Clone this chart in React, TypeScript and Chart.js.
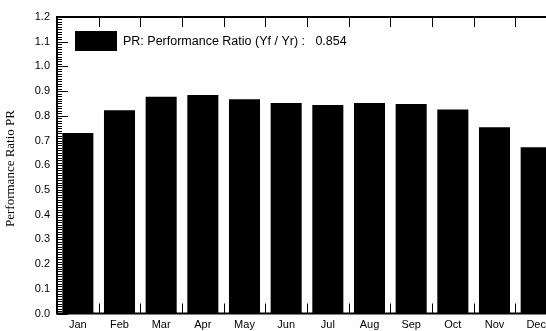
import React, { useEffect, useRef } from "react";
import { Chart, registerables } from "chart.js";

Chart.register(...registerables);

const months = ["Jan", "Feb", "Mar", "Apr", "May", "Jun", "Jul", "Aug", "Sep", "Oct", "Nov", "Dec"];
const prValues = [0.731, 0.823, 0.877, 0.884, 0.867, 0.852, 0.844, 0.852, 0.848, 0.826, 0.754, 0.673];
const yMin = 0;
const yMax = 1.2;
const yStep = 0.1;
const seriesLabel = "PR: Performance Ratio (Yf / Yr) :   0.854";
const yAxisTitle = "Performance Ratio PR  ";

const SANS = "'Liberation Sans', Arial, sans-serif";
const SERIF = "'Liberation Serif', 'Times New Roman', serif";

export default function App() {
  const ref = useRef<HTMLCanvasElement>(null);

  useEffect(() => {
    const canvas = ref.current;
    if (!canvas) return;

    const framePlugin = {
      id: "frame",
      afterDraw(chart: any) {
        const { ctx, chartArea: a, scales } = chart;
        const x = scales.x;
        const y = scales.y;
        ctx.save();
        ctx.strokeStyle = "#000";
        ctx.fillStyle = "#000";

        // left axis ticks (inside): minor every 0.01, major every 0.1
        ctx.lineWidth = 1;
        for (let i = 0; i <= 120; i++) {
          const py = Math.round(y.getPixelForValue(i / 100)) + 0.5;
          const len = i % 10 === 0 ? 11 : 5;
          ctx.beginPath();
          ctx.moveTo(a.left, py);
          ctx.lineTo(a.left + len, py);
          ctx.stroke();
        }

        // category boundary ticks top and bottom
        for (let i = 1; i < months.length; i++) {
          const px = Math.round((x.getPixelForValue(i - 1) + x.getPixelForValue(i)) / 2) + 0.5;
          ctx.beginPath();
          ctx.moveTo(px, a.top);
          ctx.lineTo(px, a.top + 10);
          ctx.moveTo(px, a.bottom);
          ctx.lineTo(px, a.bottom - 10);
          ctx.stroke();
        }

        // frame lines
        ctx.lineWidth = 2;
        ctx.beginPath();
        ctx.moveTo(a.left, a.bottom);
        ctx.lineTo(a.left, a.top);
        ctx.lineTo(a.right, a.top);
        ctx.moveTo(a.left - 1, a.bottom);
        ctx.lineTo(a.right, a.bottom);
        ctx.stroke();

        // legend inside plot
        const lx = a.left + 18;
        const ly = a.top + 14;
        ctx.fillRect(lx, ly, 42, 20);
        ctx.font = `12.5px ${SANS}`;
        ctx.textBaseline = "middle";
        ctx.textAlign = "left";
        ctx.fillText(chart.data.datasets[0].label, lx + 48, ly + 11);
        ctx.restore();
      },
    };

    const chart = new Chart(canvas, {
      type: "bar",
      data: {
        labels: months,
        datasets: [
          {
            label: seriesLabel,
            data: prValues,
            backgroundColor: "#000",
            borderWidth: 0,
            barPercentage: 0.745,
            categoryPercentage: 1,
          },
        ],
      },
      options: {
        responsive: false,
        animation: false,
        devicePixelRatio: 1,
        layout: { padding: { top: 17, right: 3, left: 0, bottom: 0 } },
        plugins: {
          legend: { display: false },
          tooltip: { enabled: false },
        },
        scales: {
          x: {
            grid: { display: false, drawTicks: false },
            border: { display: false },
            ticks: {
              color: "#000",
              font: { family: SANS, size: 11 },
              padding: 5,
              maxRotation: 0,
              autoSkip: false,
            },
            afterFit: (s: any) => {
              s.height = 17.5;
            },
          },
          y: {
            min: yMin,
            max: yMax,
            grid: { display: false, drawTicks: false },
            border: { display: false },
            ticks: {
              stepSize: yStep,
              color: "#000",
              font: { family: SANS, size: 11 },
              padding: 7,
              callback: (v: any) => Number(v).toFixed(1),
            },
            title: {
              display: true,
              text: yAxisTitle,
              color: "#000",
              font: { family: SERIF, size: 13 },
              padding: { top: 3, bottom: 0 },
            },
            afterFit: (s: any) => {
              s.width = 57;
            },
          },
        },
      },
      plugins: [framePlugin],
    });

    return () => chart.destroy();
  }, []);

  return (
    <div
      style={{
        position: "fixed",
        left: 0,
        top: 0,
        width: 546,
        height: 331,
        overflow: "hidden",
        background: "#fff",
      }}
    >
      <canvas ref={ref} width={560} height={331} style={{ display: "block" }} />
    </div>
  );
}
